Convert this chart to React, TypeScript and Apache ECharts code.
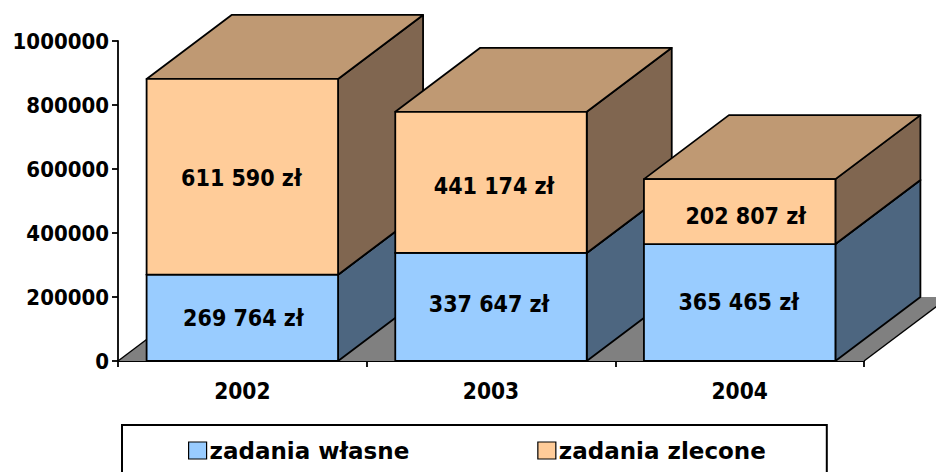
import React, { useEffect, useRef } from "react";
import * as echarts from "echarts";

const years = ["2002", "2003", "2004"];
const zadaniaWlasne = [269764, 337647, 365465];
const zadaniaZlecone = [611590, 441174, 202807];
const yTicks = { min: 0, max: 1000000, interval: 200000 };
const FONT = "'DejaVu Sans Condensed', 'DejaVu Sans', sans-serif";
const DX = 85;
const DY = 64;
const BAR_RATIO = 0.77;
const INK = "#000000";
const nudgeOwn = [[1, 0], [-2, -3], [-1, -1]];
const nudgeOrdered = [[-1, 1], [3, 4], [6, 4]];

const fmt = (v: number) => String(v).replace(/\B(?=(\d{3})+$)/g, " ") + " zł";

function box(front: string, side: string, top: string, layerZ: number, nudge: number[][]) {
  return (params: any, api: any) => {
    const i = api.value(0);
    const band = api.size([1, 0])[0];
    const w = band * BAR_RATIO;
    const base = api.coord([i, api.value(1)]);
    const head = api.coord([i, api.value(2)]);
    const x0 = base[0] - w / 2;
    const x1 = base[0] + w / 2;
    const y0 = base[1];
    const y1 = head[1];
    const z2 = i * 10 + layerZ;
    const line = { stroke: INK, lineWidth: 1.8, lineJoin: "round" };
    return {
      type: "group",
      children: [
        {
          type: "polygon", z2,
          shape: { points: [[x1, y0], [x1 + DX, y0 - DY], [x1 + DX, y1 - DY], [x1, y1]] },
          style: { fill: side, ...line },
        },
        {
          type: "polygon", z2,
          shape: { points: [[x0, y1], [x1, y1], [x1 + DX, y1 - DY], [x0 + DX, y1 - DY]] },
          style: { fill: top, ...line },
        },
        {
          type: "rect", z2: z2 + 1,
          shape: { x: x0, y: y1, width: w, height: y0 - y1 },
          style: { fill: front, ...line },
        },
        {
          type: "text", z2: z2 + 2,
          x: base[0] + nudge[i][0], y: (y0 + y1) / 2 + nudge[i][1],
          style: {
            text: fmt(api.value(3)), fill: INK, font: `bold 23px ${FONT}`,
            align: "center", verticalAlign: "middle",
          },
        },
      ],
    };
  };
}

function floor(params: any, api: any) {
  const band = api.size([1, 0])[0];
  const a = api.coord([0, 0]);
  const c = api.coord([years.length - 1, 0]);
  const xl = a[0] - band / 2;
  const xr = c[0] + band / 2;
  const y = a[1];
  return {
    type: "group",
    children: [
      {
        type: "polygon",
        shape: { points: [[xl, y], [xr, y], [xr + DX, y - DY], [xl + DX, y - DY]] },
        style: { fill: "#808080", stroke: "none" },
      },
      { type: "line", shape: { x1: xl, y1: y, x2: xl + DX, y2: y - DY }, style: { stroke: INK, lineWidth: 1.4 } },
      { type: "line", shape: { x1: xr, y1: y, x2: xr + DX, y2: y - DY }, style: { stroke: INK, lineWidth: 1.4 } },
    ],
  };
}

export default function App() {
  const ref = useRef<HTMLDivElement>(null);
  useEffect(() => {
    document.body.style.margin = "0";
    const chart = echarts.init(ref.current!, undefined, { renderer: "svg" });
    const axisLine = { show: true, lineStyle: { color: INK, width: 1.8 } };
    const axisTick = { show: true, length: 6, lineStyle: { color: INK, width: 1.8 } };
    const axisLabel = { color: INK, fontFamily: FONT, fontWeight: "bold" as const, fontSize: 22 };
    chart.setOption({
      animation: false,
      backgroundColor: "#ffffff",
      grid: { left: 118, right: 72, top: 41, bottom: 111, containLabel: false },
      legend: {
        data: ["zadania własne", "zadania zlecone"],
        left: 122, top: 425,
        orient: "horizontal",
        padding: [14, 61, 40, 66],
        itemGap: 128,
        itemWidth: 18, itemHeight: 17,
        icon: "rect",
        borderColor: INK, borderWidth: 2,
        selectedMode: false,
        itemStyle: { borderColor: INK, borderWidth: 1.2 },
        textStyle: { color: INK, fontFamily: "'DejaVu Sans', sans-serif", fontWeight: "bold", fontSize: 23, padding: [0, 0, 0, -2] },
      },
      xAxis: {
        type: "category", data: years,
        axisLine, axisTick,
        axisLabel: { ...axisLabel, margin: 18, interval: 0, fontSize: 22.5 },
        splitLine: { show: false },
      },
      yAxis: {
        type: "value", ...yTicks,
        axisLine, axisTick,
        axisLabel: { ...axisLabel, margin: 9, formatter: (v: number) => String(v) },
        splitLine: { show: false },
      },
      series: [
        {
          type: "custom", name: "floor", z: 1, renderItem: floor,
          data: [[0, 0]], silent: true,
        },
        {
          type: "custom", name: "zadania własne", z: 2,
          renderItem: box("#99CCFF", "#4D6680", "#7399BF", 0, nudgeOwn),
          itemStyle: { color: "#99CCFF" },
          encode: { x: 0, y: [1, 2] },
          data: years.map((_, i) => [i, 0, zadaniaWlasne[i], zadaniaWlasne[i]]),
        },
        {
          type: "custom", name: "zadania zlecone", z: 2,
          renderItem: box("#FFCC99", "#806650", "#BF9973", 4, nudgeOrdered),
          itemStyle: { color: "#FFCC99" },
          encode: { x: 0, y: [1, 2] },
          data: years.map((_, i) => [i, zadaniaWlasne[i], zadaniaWlasne[i] + zadaniaZlecone[i], zadaniaZlecone[i]]),
        },
      ],
    });
    return () => chart.dispose();
  }, []);
  return <div ref={ref} style={{ width: 936, height: 472 }} />;
}
